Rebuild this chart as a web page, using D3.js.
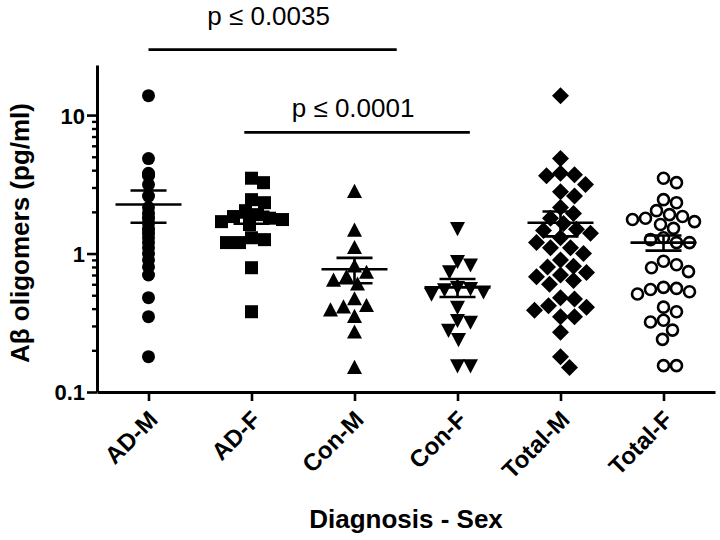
<!DOCTYPE html>
<html><head><meta charset="utf-8">
<script src="https://cdn.jsdelivr.net/npm/d3@7"></script>
<style>body{margin:0;background:#fff}</style>
</head><body>
<svg id="chart" width="720" height="540"></svg>
<script>
// ---------- data ----------
const categories = ["AD-M", "AD-F", "Con-M", "Con-F", "Total-M", "Total-F"];
const adM  = [13.8, 4.85, 3.8, 3.7, 3.65, 3.15, 2.6, 2.15, 1.95, 1.8, 1.65, 1.5, 1.4, 1.3, 1.2, 1.1, 1.0, 0.9, 0.8, 0.7, 0.48, 0.35, 0.18];
const adF  = [3.5, 3.25, 2.45, 2.33, 2.04, 1.91, 1.85, 1.8, 1.76, 1.7, 1.62, 1.3, 1.26, 1.2, 1.2, 0.79, 0.38];
const conM = [2.8, 1.47, 1.1, 0.81, 0.73, 0.68, 0.64, 0.6, 0.47, 0.42, 0.41, 0.39, 0.35, 0.27, 0.15];
const conF = [1.52, 0.88, 0.83, 0.74, 0.57, 0.56, 0.55, 0.53, 0.51, 0.41, 0.33, 0.32, 0.28, 0.24, 0.155, 0.155];
const totalM = adM.concat(conM);   // Total-M = AD-M + Con-M
const totalF = adF.concat(conF);   // Total-F = AD-F + Con-F
const meanValues = [2.26, 1.82, 0.77, 0.57, 1.67, 1.20];
const semValues  = [0.59, 0.18, 0.16, 0.085, 0.34, 0.15];
const yTickValues = [0.1, 1, 10];
const yTickLabels = ["0.1", "1", "10"];
const yAxisMax = 23;
const sigLabels = ["p \u2264 0.0035", "p \u2264 0.0001"];
const sigFromIndex = [0, 0.93];
const sigToIndex = [2.41, 3.12];
const sigLineLevel = [29.7, 7.5];
const sigTextLevel = [45, 9.75];
const xTitle = "Diagnosis - Sex";
const yTitle = "A\u03b2 oligomers (pg/ml)";

const groupValues = [adM, adF, conM, conF, totalM, totalF];

// ---------- layout ----------
const FONT = "Arial, 'Liberation Sans', Helvetica, sans-serif";
const svg = d3.select("#chart");
const x = d3.scalePoint().domain(categories).range([97, 715]).padding(0.5);
const y = d3.scaleLog().domain([0.1, yAxisMax]).range([392, 65]);
const step = x.step();
const xIdx = i => x(categories[0]) + i * step;

// marker shapes (size = width in px)
const shapes = {
  circle: {draw(c, s){ c.moveTo(s/2, 0); c.arc(0, 0, s/2, 0, 2*Math.PI); }},
  square: {draw(c, s){ c.rect(-s/2, -s/2, s, s); }},
  triUp:  {draw(c, s){ c.moveTo(0, -s*0.52); c.lineTo(s/2, s*0.42); c.lineTo(-s/2, s*0.42); c.closePath(); }},
  triDown:{draw(c, s){ c.moveTo(0, s*0.52); c.lineTo(s/2, -s*0.42); c.lineTo(-s/2, -s*0.42); c.closePath(); }},
  diamond:{draw(c, s){ c.moveTo(0, -s/2); c.lineTo(s/2, 0); c.lineTo(0, s/2); c.lineTo(-s/2, 0); c.closePath(); }}
};
const markerStyle = [
  {shape: "circle",  size: 13, fill: "#000", stroke: "none", spread: false, d: 0},
  {shape: "square",  size: 13, fill: "#000", stroke: "none", spread: true,  d: 12.5},
  {shape: "triUp",   size: 15, fill: "#000", stroke: "none", spread: true,  d: 13},
  {shape: "triDown", size: 15, fill: "#000", stroke: "none", spread: true,  d: 13},
  {shape: "diamond", size: 17, fill: "#000", stroke: "none", spread: true,  d: 14},
  {shape: "circle",  size: 11, fill: "#fff", stroke: "#000", spread: true,  d: 13}
];

// greedy beeswarm
function swarm(vals, cx, d, spread) {
  const sorted = vals.map(v => ({v, py: y(v)})).sort((a, b) => a.py - b.py);
  const placed = [];
  sorted.forEach(p => {
    let off = 0;
    if (spread) {
      for (let k = 0; k <= 80; k++) {
        const cands = k === 0 ? [0] : [k, -k];
        let found = null;
        for (const o of cands) {
          const ok = placed.every(q => (q.dx - o) ** 2 + (q.py - p.py) ** 2 >= d * d);
          if (ok) { found = o; break; }
        }
        if (found !== null) { off = found; break; }
      }
    }
    p.dx = off;
    placed.push(p);
  });
  return placed.map(p => ({v: p.v, px: cx + p.dx, py: p.py}));
}

// points
categories.forEach((cat, i) => {
  const st = markerStyle[i];
  const pts = swarm(groupValues[i], x(cat), st.d, st.spread);
  const sym = d3.symbol().type(shapes[st.shape]).size(st.size);
  svg.append("g").selectAll("path").data(pts).join("path")
    .attr("d", sym)
    .attr("transform", p => `translate(${p.px},${p.py})`)
    .attr("fill", st.fill)
    .attr("stroke", st.stroke)
    .attr("stroke-width", st.stroke === "none" ? 0 : 2.6);
});

// mean and SEM bars
const bars = svg.append("g").attr("stroke", "#000").attr("stroke-width", 2.6);
categories.forEach((cat, i) => {
  const cx = x(cat), m = meanValues[i], s = semValues[i];
  bars.append("line").attr("x1", cx - 33).attr("x2", cx + 33).attr("y1", y(m)).attr("y2", y(m));
  bars.append("line").attr("x1", cx).attr("x2", cx).attr("y1", y(m + s)).attr("y2", y(m - s));
  bars.append("line").attr("x1", cx - 18).attr("x2", cx + 18).attr("y1", y(m + s)).attr("y2", y(m + s));
  bars.append("line").attr("x1", cx - 18).attr("x2", cx + 18).attr("y1", y(m - s)).attr("y2", y(m - s));
});

// y axis
const minorTicks = y.ticks().filter(t => t <= 10 && !yTickValues.some(v => Math.abs(v - t) < 1e-9));
const gyMinor = svg.append("g").attr("transform", "translate(97,0)")
  .call(d3.axisLeft(y).tickValues(minorTicks).tickSize(5).tickSizeOuter(0).tickFormat(""));
gyMinor.select(".domain").remove();
gyMinor.selectAll("line").attr("stroke-width", 2.4);
const gy = svg.append("g").attr("transform", "translate(97,0)")
  .call(d3.axisLeft(y).tickValues(yTickValues).tickSize(10).tickSizeOuter(0)
    .tickFormat((d, i) => yTickLabels[i]));
gy.select(".domain").attr("stroke-width", 3);
gy.selectAll(".tick line").attr("stroke-width", 2.6);
gy.selectAll(".tick text").attr("font-family", FONT).attr("font-size", 22)
  .attr("font-weight", "bold").attr("fill", "#000").attr("x", -12).attr("dy", "0.36em");

// x axis
const gx = svg.append("g").attr("transform", "translate(0,392)")
  .call(d3.axisBottom(x).tickSize(9).tickSizeOuter(0));
gx.select(".domain").attr("stroke-width", 3);
gx.selectAll(".tick line").attr("stroke-width", 2.6);
gx.selectAll(".tick text").attr("font-family", FONT).attr("font-size", 24)
  .attr("font-weight", "bold").attr("fill", "#000")
  .attr("text-anchor", "end").attr("x", 0).attr("y", 0).attr("dy", "0.36em")
  .attr("transform", "translate(4,23) rotate(-45)");

// axis titles
svg.append("text").attr("x", 406).attr("y", 528).attr("text-anchor", "middle")
  .attr("font-family", FONT).attr("font-size", 26).attr("font-weight", "bold").text(xTitle);
svg.append("text").attr("transform", "translate(29,233) rotate(-90)").attr("text-anchor", "middle")
  .attr("font-family", FONT).attr("font-size", 26).attr("font-weight", "bold").text(yTitle);

// significance annotations
sigLabels.forEach((lab, i) => {
  const x1 = xIdx(sigFromIndex[i]), x2 = xIdx(sigToIndex[i]);
  svg.append("line").attr("x1", x1).attr("x2", x2)
    .attr("y1", y(sigLineLevel[i])).attr("y2", y(sigLineLevel[i]))
    .attr("stroke", "#000").attr("stroke-width", 2.6);
  svg.append("text").attr("x", (x1 + x2) / 2 - 4).attr("y", y(sigTextLevel[i]))
    .attr("text-anchor", "middle").attr("font-family", FONT).attr("font-size", 26)
    .attr("fill", "#000").text(lab);
});
</script>
</body></html>
